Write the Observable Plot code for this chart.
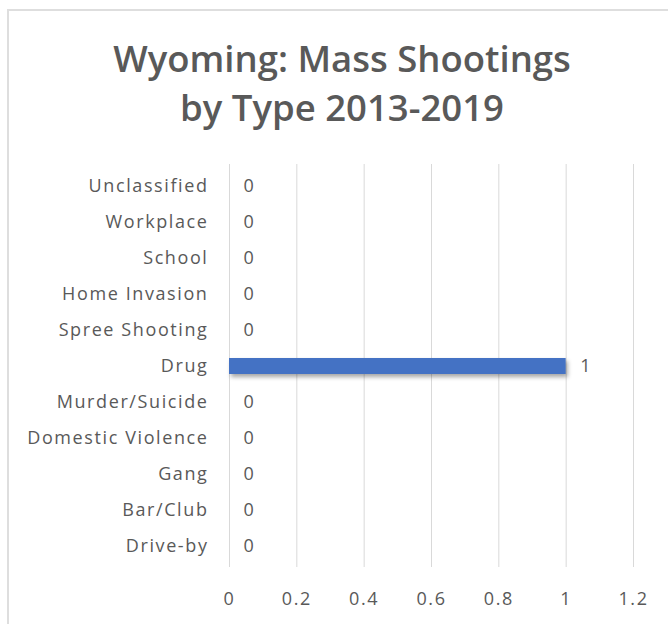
<!DOCTYPE html>
<html>
<head>
<meta charset="utf-8">
<script src="https://cdn.jsdelivr.net/npm/d3@7"></script>
<script src="https://cdn.jsdelivr.net/npm/@observablehq/plot@0.6"></script>
<style>
  html, body { margin: 0; padding: 0; background: #fff; }
  #wrap { position: relative; width: 668px; height: 624px; overflow: hidden; font-family: "Open Sans", sans-serif; }
  #frame { position: absolute; left: 7px; top: 9px; width: 700px; height: 700px; border: 2px solid #dedede; box-sizing: border-box; }
  #title { position: absolute; left: 0; top: 34px; width: 684px; text-align: center; font-family: "Open Sans", sans-serif; font-weight: 600; font-size: 36.5px; line-height: 49px; color: #595959; }
  #chart { position: absolute; left: 0; top: 140px; }
  .bars { filter: drop-shadow(2px 3px 2px rgba(0,0,0,0.35)); }
</style>
</head>
<body>
<div id="wrap">
  <div id="frame"></div>
  <div id="title">Wyoming: Mass Shootings<br>by Type 2013-2019</div>
  <div id="chart"></div>
</div>
<script>
const categories = ["Unclassified", "Workplace", "School", "Home Invasion", "Spree Shooting", "Drug", "Murder/Suicide", "Domestic Violence", "Gang", "Bar/Club", "Drive-by"];
const values = [0, 0, 0, 0, 0, 1, 0, 0, 0, 0, 0];
const xTicks = [0, 0.2, 0.4, 0.6, 0.8, 1, 1.2];

const data = categories.map((c, i) => ({category: c, value: values[i]}));

const chart = Plot.plot({
  width: 668,
  height: 484,
  marginLeft: 229,
  marginRight: 35,
  marginTop: 24,
  marginBottom: 57,
  style: {fontFamily: "Open Sans, sans-serif", fontSize: "18px", letterSpacing: "1.6px", color: "#595959", background: "transparent"},
  x: {domain: [0, 1.2], ticks: xTicks, tickFormat: d => String(d), label: null},
  y: {domain: categories, paddingInner: 0.56, paddingOuter: 0.26, label: null},
  marks: [
    Plot.gridX(xTicks, {stroke: "#d9d9d9", strokeOpacity: 1, strokeWidth: 1}),
    Plot.axisX({ticks: xTicks, tickSize: 0, tickPadding: 25, tickFormat: d => String(d), fill: "#595959", fontSize: 18}),
    Plot.axisY({tickSize: 0, tickPadding: 21, fill: "#595959", fontSize: 18}),
    Plot.barX(data, {x: "value", y: "category", fill: "#4472C4", className: "bars"}),
    Plot.text(data, {x: "value", y: "category", text: d => String(d.value), textAnchor: "start", dx: 14, fill: "#595959", fontSize: 18})
  ]
});
document.getElementById("chart").appendChild(chart);
</script>
</body>
</html>
